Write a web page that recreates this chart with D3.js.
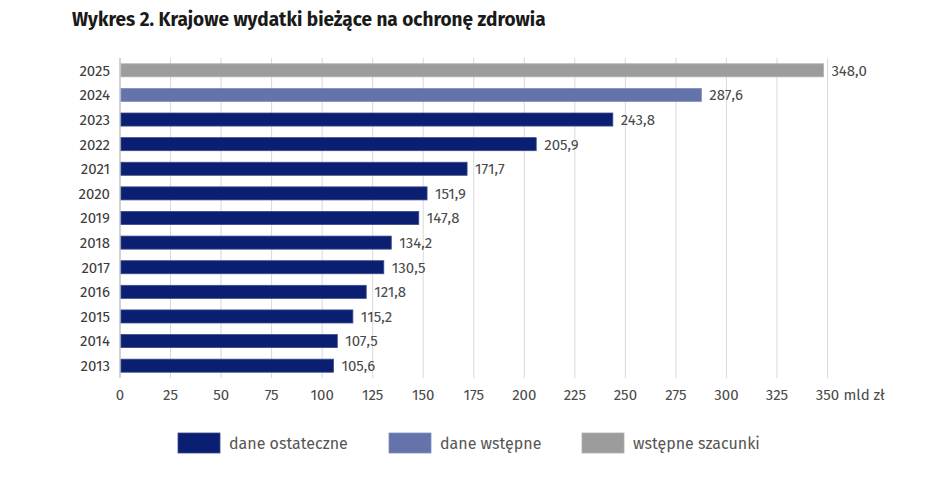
<!DOCTYPE html>
<html><head><meta charset="utf-8">
<script src="https://cdn.jsdelivr.net/npm/d3@7"></script>
<style>body{margin:0;background:#fff;} text{font-family:"Fira Sans",Lato,"Open Sans",sans-serif;}</style>
</head><body>
<svg id="c" width="948" height="480"></svg>
<script>
const years = ["2025","2024","2023","2022","2021","2020","2019","2018","2017","2016","2015","2014","2013"];
const values = [348.0,287.6,243.8,205.9,171.7,151.9,147.8,134.2,130.5,121.8,115.2,107.5,105.6];
const status = ["est","prelim","final","final","final","final","final","final","final","final","final","final","final"];
const ticks = [0,25,50,75,100,125,150,175,200,225,250,275,300,325,350];
const legendKeys = ["final","prelim","est"];
const legendLabels = ["dane ostateczne","dane wstępne","wstępne szacunki"];
const colors = {final:"#0b1f72", prelim:"#6474aa", est:"#9c9c9c"};
const strokes = {final:"#3a4a8a", prelim:"#8090bb", est:"#b0b0b0"};

const svg = d3.select("#c");
svg.append("text").attr("x",72).attr("y",26).attr("font-size",19).attr("font-weight",700)
  .attr("fill","#1a1a1a").text("Wykres 2. Krajowe wydatki bieżące na ochronę zdrowia");

const x = d3.scaleLinear().domain([0,350]).range([120,827.5]);
const y = d3.scaleBand().domain(years).range([58,378]).paddingInner(0.47).paddingOuter(0.235);

// gridlines
svg.append("g").selectAll("line").data(ticks.slice(1)).join("line")
  .attr("x1",d=>x(d)).attr("x2",d=>x(d)).attr("y1",58).attr("y2",378)
  .attr("stroke","#d9d9d9").attr("stroke-width",1);
// axis line
svg.append("line").attr("x1",x(0)).attr("x2",x(0)).attr("y1",58).attr("y2",378)
  .attr("stroke","#b5b5b5").attr("stroke-width",1.2);

// x tick labels
svg.append("g").selectAll("text").data(ticks).join("text")
  .attr("x",d=>x(d)).attr("y",400).attr("text-anchor","middle").attr("font-size",15)
  .attr("fill","#4a4a4a").text(d=>d);
svg.append("text").attr("x",x(350)+16).attr("y",400).attr("font-size",15).attr("fill","#4a4a4a").text("mld zł");

// bars
svg.append("g").selectAll("rect").data(years).join("rect")
  .attr("x",x(0)+1).attr("y",d=>y(d)).attr("height",y.bandwidth())
  .attr("width",(d,i)=>x(values[i])-x(0)-1)
  .attr("fill",(d,i)=>colors[status[i]]).attr("stroke",(d,i)=>strokes[status[i]]).attr("stroke-width",0.8);

// year labels
svg.append("g").selectAll("text").data(years).join("text")
  .attr("x",110).attr("y",d=>y(d)+y.bandwidth()/2).attr("dy","0.36em")
  .attr("text-anchor","end").attr("font-size",15).attr("fill","#3a3a3a").text(d=>d);

// value labels
svg.append("g").selectAll("text").data(years).join("text")
  .attr("x",(d,i)=>x(values[i])+8).attr("y",d=>y(d)+y.bandwidth()/2).attr("dy","0.36em")
  .attr("font-size",15).attr("fill","#4a4a4a").text((d,i)=>values[i].toFixed(1).replace(".",","));

// legend
const lx = [178,389,582];
const lg = svg.append("g").selectAll("g").data(legendKeys).join("g")
  .attr("transform",(d,i)=>`translate(${lx[i]},433)`);
lg.append("rect").attr("width",42).attr("height",20).attr("fill",d=>colors[d]).attr("stroke",d=>strokes[d]).attr("stroke-width",0.8);
lg.append("text").attr("x",51).attr("y",10).attr("dy","0.36em").attr("font-size",16).attr("fill","#555")
  .text((d,i)=>legendLabels[i]);
</script>
</body></html>
